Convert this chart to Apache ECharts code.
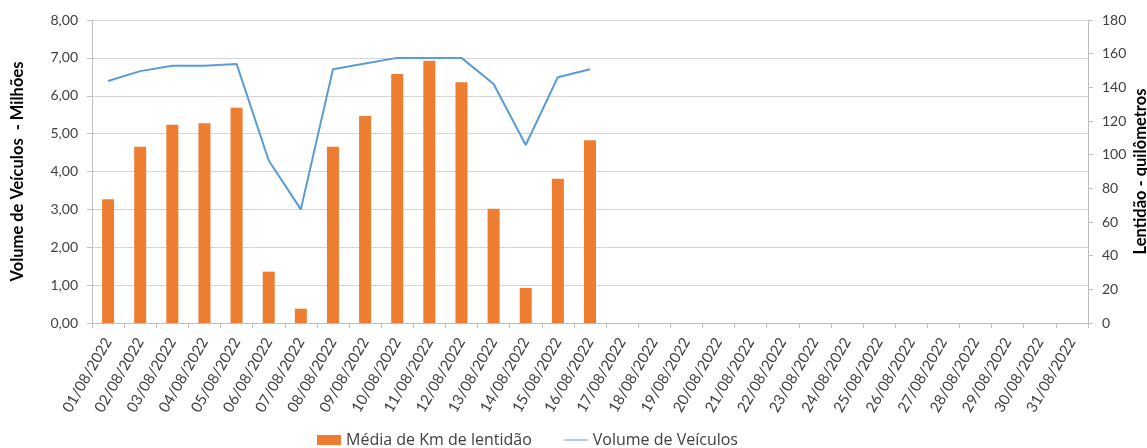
<!DOCTYPE html>
<html><head><meta charset="utf-8">
<script src="https://cdn.jsdelivr.net/npm/echarts@6/dist/echarts.min.js"></script>
<style>html,body{margin:0;padding:0;background:#fff}#c{width:1147px;height:448px}</style>
</head><body><div id="c"></div>
<script>
const categories = ["01/08/2022","02/08/2022","03/08/2022","04/08/2022","05/08/2022","06/08/2022","07/08/2022","08/08/2022","09/08/2022","10/08/2022","11/08/2022","12/08/2022","13/08/2022","14/08/2022","15/08/2022","16/08/2022","17/08/2022","18/08/2022","19/08/2022","20/08/2022","21/08/2022","22/08/2022","23/08/2022","24/08/2022","25/08/2022","26/08/2022","27/08/2022","28/08/2022","29/08/2022","30/08/2022","31/08/2022"];
const lentidaoKm = [73.5,104.7,117.8,118.6,127.9,30.5,8.5,104.7,123.0,147.9,155.8,143.0,67.9,20.8,85.7,108.5];
const volumeMilhoes = [6.39,6.65,6.79,6.79,6.84,4.29,3.00,6.70,6.85,7.00,7.00,7.00,6.31,4.70,6.49,6.70];
const seriesNames = ["Média de Km de lentidão","Volume de Veículos"];
const leftAxisName = "Volume de Veículos  - Milhões";
const rightAxisName = "Lentidão - quilômetros";

const FONT = "Lato";
const TXT = "#404040";
const chart = echarts.init(document.getElementById('c'), null, {renderer:'canvas'});
chart.setOption({
  animation:false,
  textStyle:{fontFamily:FONT},
  grid:{left:92,right:59,top:20,bottom:125,containLabel:false,outerBoundsMode:'none'},
  legend:{
    top:427,left:312,itemGap:32,
    textStyle:{fontFamily:"Open Sans",fontSize:16,color:TXT},
    data:[{name:seriesNames[0],icon:'rect'},{name:seriesNames[1],icon:'path://M0,0 L48,0 L48,2 L0,2 Z'}],
    itemWidth:24,itemHeight:10
  },
  xAxis:{
    type:'category',data:categories,
    axisLine:{lineStyle:{color:'#bfbfbf'}},
    axisTick:{show:true,alignWithLabel:false,length:5,lineStyle:{color:'#bfbfbf'}},
    axisLabel:{rotate:60,interval:0,fontSize:15,color:TXT,fontFamily:FONT,margin:16}
  },
  yAxis:[{
    type:'value',min:0,max:8,interval:1,position:'left',
    name:leftAxisName,nameLocation:'middle',nameGap:66,nameMoveOverlap:false,
    nameTextStyle:{fontWeight:'bold',fontSize:16.5,color:'#000',fontFamily:FONT},
    axisLine:{show:true,lineStyle:{color:'#bfbfbf'}},
    axisTick:{show:true,length:5,lineStyle:{color:'#bfbfbf'}},
    axisLabel:{fontSize:14,color:TXT,fontFamily:FONT,margin:14,formatter:v=>v.toFixed(2).replace('.',',')},
    splitLine:{show:true,lineStyle:{color:'#d4d4d4',width:1}}
  },{
    type:'value',min:0,max:180,interval:20,position:'right',
    name:rightAxisName,nameLocation:'middle',nameGap:44,nameRotate:90,nameMoveOverlap:false,
    nameTextStyle:{fontWeight:'bold',fontSize:16.5,color:'#000',fontFamily:FONT},
    axisLine:{show:true,lineStyle:{color:'#bfbfbf'}},
    axisTick:{show:true,length:5,lineStyle:{color:'#bfbfbf'}},
    axisLabel:{fontSize:14,color:TXT,fontFamily:FONT,margin:14},
    splitLine:{show:false}
  }],
  series:[{
    name:seriesNames[0],type:'bar',yAxisIndex:1,data:lentidaoKm,
    barWidth:12,itemStyle:{color:'#ED7D31'}
  },{
    name:seriesNames[1],type:'line',yAxisIndex:0,data:volumeMilhoes,
    symbol:'none',lineStyle:{color:'#5B9BD5',width:2},itemStyle:{color:'#5B9BD5'}
  }]
});
</script></body></html>
